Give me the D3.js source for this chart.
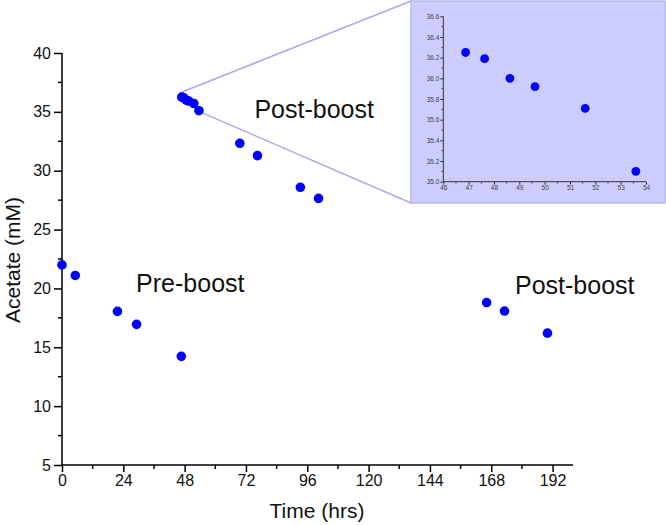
<!DOCTYPE html>
<html>
<head>
<meta charset="utf-8">
<script src="https://cdn.jsdelivr.net/npm/d3@7"></script>
<style>
  body { margin: 0; background: #fff; }
  svg { display: block; }
  .tick-lab { font-family: "Liberation Sans", Arial, sans-serif; }
</style>
</head>
<body>
<svg id="chart" width="666" height="525"></svg>
<script>
// ---- data ----
const preTime = [0, 5.2, 21.7, 29.2, 46.7];
const preAcetate = [22.0, 21.1, 18.05, 16.95, 14.23];

const post1Time = [46.88, 47.63, 48.63, 49.62, 51.6, 53.6, 69.6, 76.5, 93.3, 100.4];
const post1Acetate = [36.25, 36.19, 36.0, 35.92, 35.71, 35.10, 32.33, 31.28, 28.59, 27.65];

const post2Time = [166.2, 173.2, 190.0];
const post2Acetate = [18.8, 18.08, 16.2];

const xTicks = [0, 24, 48, 72, 96, 120, 144, 168, 192];
const yTicks = [5, 10, 15, 20, 25, 30, 35, 40];
const insetXTicks = [46, 47, 48, 49, 50, 51, 52, 53, 54];
const insetYTicks = [35.0, 35.2, 35.4, 35.6, 35.8, 36.0, 36.2, 36.4, 36.6];
const insetXDomain = [46, 54];
const insetYDomain = [35.0, 36.6];

const labels = [
  { text: "Pre-boost", t: 29, v: 19.7 },
  { text: "Post-boost", t: 75.3, v: 34.5 },
  { text: "Post-boost", t: 177.3, v: 19.5 }
];

// ---- main chart ----
const svg = d3.select("#chart");
const x = d3.scaleLinear().domain([0, 200]).range([62, 573]);
const y = d3.scaleLinear().domain([5, 40]).range([465, 53]);
const blue = "#0000ff";

// x axis
const xAxis = d3.axisBottom(x).tickValues(xTicks).tickSize(7).tickPadding(3);
const gx = svg.append("g").attr("transform", `translate(0,${y(5)})`).call(xAxis);
const xMinor = d3.range(12, 200, 24);
gx.selectAll(".minor").data(xMinor).enter().append("line")
  .attr("x1", d => x(d)).attr("x2", d => x(d)).attr("y1", 0).attr("y2", 4)
  .attr("stroke", "#000").attr("stroke-width", 1.5);

// y axis
const yAxis = d3.axisLeft(y).tickValues(yTicks).tickSize(8).tickPadding(3);
const gy = svg.append("g").attr("transform", `translate(${x(0)},0)`).call(yAxis);
const yMinor = d3.range(7.5, 40, 5);
gy.selectAll(".minor").data(yMinor).enter().append("line")
  .attr("x1", 0).attr("x2", -4).attr("y1", d => y(d)).attr("y2", d => y(d))
  .attr("stroke", "#000").attr("stroke-width", 1.5);

[gx, gy].forEach(g => {
  g.select(".domain").attr("stroke", "#000").attr("stroke-width", 1.5)
    .attr("d", g === gx ? `M${x(0) - 1},0H${x(200)}` : `M0,${y(5)}V${y(40)}`);
  g.selectAll(".tick line").attr("stroke", "#000").attr("stroke-width", 1.5);
  g.selectAll(".tick text").attr("class", "tick-lab").attr("font-size", 16).attr("fill", "#111");
});

// axis titles
svg.append("text").attr("x", 317).attr("y", 518).attr("text-anchor", "middle")
  .attr("font-family", "Liberation Sans, Arial, sans-serif").attr("font-size", 21)
  .attr("fill", "#111").text("Time (hrs)");
svg.append("text").attr("transform", "translate(20,260) rotate(-90)").attr("text-anchor", "middle")
  .attr("font-family", "Liberation Sans, Arial, sans-serif").attr("font-size", 21)
  .attr("fill", "#111").text("Acetate (mM)");

// ---- inset box & connectors ----
const boxL = 411, boxT = 1, boxR = 665, boxB = 203;
svg.append("rect").attr("x", boxL).attr("y", boxT).attr("width", boxR - boxL).attr("height", boxB - boxT)
  .attr("fill", "#ccccff").attr("stroke", "#b9b9e6").attr("stroke-width", 1.5);

const connColor = "#a9a9f0";
svg.append("line").attr("x1", x(insetXDomain[0])).attr("y1", y(insetYDomain[1]))
  .attr("x2", boxL).attr("y2", boxT).attr("stroke", connColor).attr("stroke-width", 1.5);
svg.append("line").attr("x1", x(insetXDomain[1])).attr("y1", y(insetYDomain[0]))
  .attr("x2", boxL).attr("y2", boxB).attr("stroke", connColor).attr("stroke-width", 1.5);

// main points
const allPts = [];
preTime.forEach((t, i) => allPts.push([t, preAcetate[i]]));
post1Time.forEach((t, i) => allPts.push([t, post1Acetate[i]]));
post2Time.forEach((t, i) => allPts.push([t, post2Acetate[i]]));
svg.append("g").selectAll("circle").data(allPts).enter().append("circle")
  .attr("cx", d => x(d[0])).attr("cy", d => y(d[1])).attr("r", 4.8).attr("fill", blue);

// text labels
svg.append("g").selectAll("text").data(labels).enter().append("text")
  .attr("x", d => x(d.t)).attr("y", d => y(d.v))
  .attr("font-family", "Liberation Sans, Arial, sans-serif").attr("font-size", 25)
  .attr("fill", "#111").text(d => d.text);

// ---- inset chart ----
const ix = d3.scaleLinear().domain(insetXDomain).range([443.3, 646]);
const iy = d3.scaleLinear().domain(insetYDomain).range([181.7, 16.3]);
const insetColor = "#333";

const gix = svg.append("g").attr("transform", `translate(0,${iy(insetYDomain[0])})`)
  .call(d3.axisBottom(ix).tickValues(insetXTicks).tickSize(3).tickPadding(1).tickFormat(d3.format("d")));
gix.selectAll(".minor").data(d3.range(46.5, 54, 1)).enter().append("line")
  .attr("x1", d => ix(d)).attr("x2", d => ix(d)).attr("y1", 0).attr("y2", 2)
  .attr("stroke", insetColor).attr("stroke-width", 0.8);

const giy = svg.append("g").attr("transform", `translate(${ix(insetXDomain[0])},0)`)
  .call(d3.axisLeft(iy).tickValues(insetYTicks).tickSize(3).tickPadding(1).tickFormat(d3.format(".1f")));
giy.selectAll(".minor").data(d3.range(35.1, 36.6, 0.2)).enter().append("line")
  .attr("x1", 0).attr("x2", -2).attr("y1", d => iy(d)).attr("y2", d => iy(d))
  .attr("stroke", insetColor).attr("stroke-width", 0.8);

[gix, giy].forEach(g => {
  g.select(".domain").attr("stroke", insetColor).attr("stroke-width", 1)
    .attr("d", g === gix ? `M${ix(46)},0H${ix(54)}` : `M0,${iy(35)}V${iy(36.6)}`);
  g.selectAll(".tick line").attr("stroke", insetColor).attr("stroke-width", 1);
  g.selectAll(".tick text").attr("class", "tick-lab").attr("font-size", 6.5).attr("fill", "#444");
});

const insetPts = post1Time.map((t, i) => [t, post1Acetate[i]])
  .filter(d => d[0] >= insetXDomain[0] && d[0] <= insetXDomain[1]);
svg.append("g").selectAll("circle").data(insetPts).enter().append("circle")
  .attr("cx", d => ix(d[0])).attr("cy", d => iy(d[1])).attr("r", 4.4).attr("fill", blue);
</script>
</body>
</html>
